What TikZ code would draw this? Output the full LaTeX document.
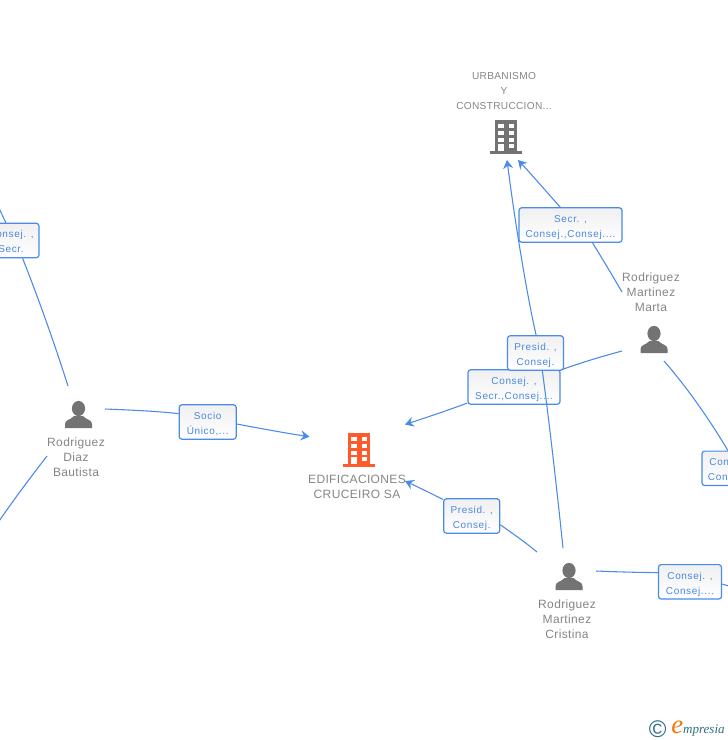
\documentclass[tikz,border=0pt]{standalone}
\usepackage{fontspec}
\setmainfont[LetterSpace=3]{Liberation Sans}
\newfontfamily\linkfont[LetterSpace=6.5]{Liberation Sans}
\newfontfamily\logofont{Liberation Serif}
\usepackage{xcolor}
\usepackage{tikz}
\usetikzlibrary{arrows,arrows.meta}
\definecolor{linkblue}{HTML}{4A8AE8}
\definecolor{textblue}{HTML}{4A88E2}
\definecolor{icongray}{HTML}{737373}
\definecolor{namegray}{HTML}{858585}
\definecolor{firmorange}{HTML}{FF5A2B}
\definecolor{logoteal}{HTML}{2F6F85}
\definecolor{logoorange}{HTML}{F07810}
\tikzset{
  link/.style={color=linkblue,line width=0.8pt},
  linkto/.style={link,-{Stealth[length=6.5pt,width=7.5pt,inset=2.2pt]}},
  linkbox/.style={draw=linkblue,line width=0.9pt,rounded corners=2pt,top color=black!6,bottom color=white,
    text=textblue,align=center,inner sep=0pt,minimum height=25.8pt,minimum width=#1*0.75pt,
    font=\linkfont\fontsize{7.5}{11.25}\selectfont,
    execute at begin node=\rule[-2pt]{0pt}{22.6pt}},
  nametext/.style={text=namegray,align=center,inner sep=0pt,font=\fontsize{9}{11.25}\selectfont},
  firmtext/.style={nametext,font=\fontsize{7.6}{11.25}\selectfont},
  pics/firm/.style={code={
    \fill[#1] (-16,-3) rectangle (16,0);
    \fill[#1] (-11,-34) rectangle (11,-3);
    \foreach \r in {-30,-23,-16.3,-10}
      \foreach \c in {-8,2.5}
        \fill[white] (\c,\r) rectangle (\c+5.5,\r+4.2);
    \fill[white] (-8,-6) rectangle (-2.5,-3);
  }},
  pics/person/.style={code={
    \fill[icongray] (0,-19.5) ellipse[x radius=6.6,y radius=7.6];
    \fill[icongray] (-13.5,0) -- (-13.5,-4) .. controls (-13.5,-8.5) and (-7,-8.5) .. (-4.5,-12)
      -- (4.5,-12) .. controls (7,-8.5) and (13.5,-8.5) .. (13.5,-4) -- (13.5,0) -- cycle;
  }}
}

\begin{document}
\begin{tikzpicture}[x=0.75pt,y=-0.75pt]
\useasboundingbox (0,0) rectangle (728,740);
\clip (0,0) rectangle (728,740);

% firms
\pic at (506,154) {firm=icongray};
\node[firmtext] (urbanismo) at (504,91.5) {URBANISMO\\Y\\CONSTRUCCION...};
\pic at (359,467) {firm=firmorange};
\node[nametext] (edificaciones) at (357,486.5) {EDIFICACIONES\\CRUCEIRO SA};

% persons
\pic at (78.5,428) {person};
\node[nametext] (bautista) at (76,457) {Rodriguez\\Diaz\\Bautista};
\pic at (654,353) {person};
\node[nametext] (marta) at (651,292) {Rodriguez\\Martinez\\Marta};
\pic at (569,590) {person};
\node[nametext] (cristina) at (567,619) {Rodriguez\\Martinez\\Cristina};

% free ends of the links
\coordinate (bautistaN) at (68,386);
\coordinate (bautistaE) at (105,409);
\coordinate (bautistaS) at (47,456);
\coordinate (offTop) at (-3,204);
\coordinate (offLow) at (-3,524);
\coordinate (martaN) at (622,292);
\coordinate (martaW) at (622,351);
\coordinate (martaS) at (664,361);
\coordinate (cristinaN) at (563,548);
\coordinate (cristinaW) at (537,552);
\coordinate (cristinaE) at (596,571);
\coordinate (offRight) at (750,592);
\coordinate (urbanismoS) at (507,160);
\coordinate (urbanismoE) at (518,160);
\coordinate (edificacionesW) at (309.5,436.7);
\coordinate (edificacionesN) at (405,424.5);
\coordinate (edificacionesE) at (405,481);

% link boxes
\node[linkbox=56] (boxLeft) at (11,240.5) {Consej. ,\\Secr.};
\node[linkbox=57] (boxSocio) at (207.7,422) {Socio\\Único,...};
\node[linkbox=103] (boxSecr) at (570.5,225) {Secr. ,\\Consej.,Consej....};
\node[linkbox=92] (boxSecrCons) at (514,387) {Consej. ,\\Secr.,Consej....};
\node[linkbox=56] (boxPresLow) at (471.7,516) {Presid. ,\\Consej.};
\node[linkbox=63] (boxConsej) at (690,581.8) {Consej. ,\\Consej....};
\node[linkbox=60] (boxRight) at (732,468.3) {Consej. ,\\Consej....};

% links
\draw[link] (bautistaN) .. controls (55,345) and (38,297) .. (boxLeft.-57.5);
\draw[link] (boxLeft.106) -- (offTop);
\draw[link] (bautistaS) .. controls (30,478) and (15,498) .. (offLow);
\draw[link] (bautistaE) .. controls (130,410) and (155,411) .. (boxSocio.164);
\draw[linkto] (boxSocio.-4.6) .. controls (258,428) and (285,433) .. (edificacionesW);
\draw[link] (martaN) .. controls (612,275) and (602,258) .. (boxSecr.-39);
\draw[linkto] (boxSecr.120.7) .. controls (545,190) and (532,175) .. (urbanismoE);
\draw[link] (martaS) .. controls (685,385) and (708,417) .. (boxRight.103);
\draw[link] (martaW) .. controls (600,357) and (580,363) .. (boxSecrCons.20);
\draw[linkto] (boxSecrCons.199) .. controls (450,409.5) and (428,417) .. (edificacionesN);
\draw[link] (cristinaW) .. controls (525,542) and (512,533) .. (boxPresLow.-17.8);
\draw[linkto] (boxPresLow.150) .. controls (432,494) and (418,487) .. (edificacionesE);
\draw[link] (cristinaE) .. controls (620,572) and (640,572.5) .. (boxConsej.164.5);
\draw[link] (boxConsej.-4.5) -- (offRight);
\node[linkbox=56] (boxPresid) at (535.5,353) {Presid. ,\\Consej.};
\draw[link] (cristinaN) .. controls (557,490) and (549,420) .. (boxPresid.-69);
\draw[linkto] (boxPresid.88) .. controls (528,300) and (516,230) .. (urbanismoS);

% logo
\node[text=logoteal,inner sep=0pt,font=\fontsize{18}{18}\selectfont] (logoC) at (657.7,729) {©};
\node[anchor=base west,inner sep=0pt,text=logoteal,font=\logofont\itshape\fontsize{9.8}{12}\selectfont] (logoName) at (671,733)
  {\textcolor{logoorange}{\fontsize{20}{20}\selectfont e}mpresia};
\end{tikzpicture}
\end{document}
